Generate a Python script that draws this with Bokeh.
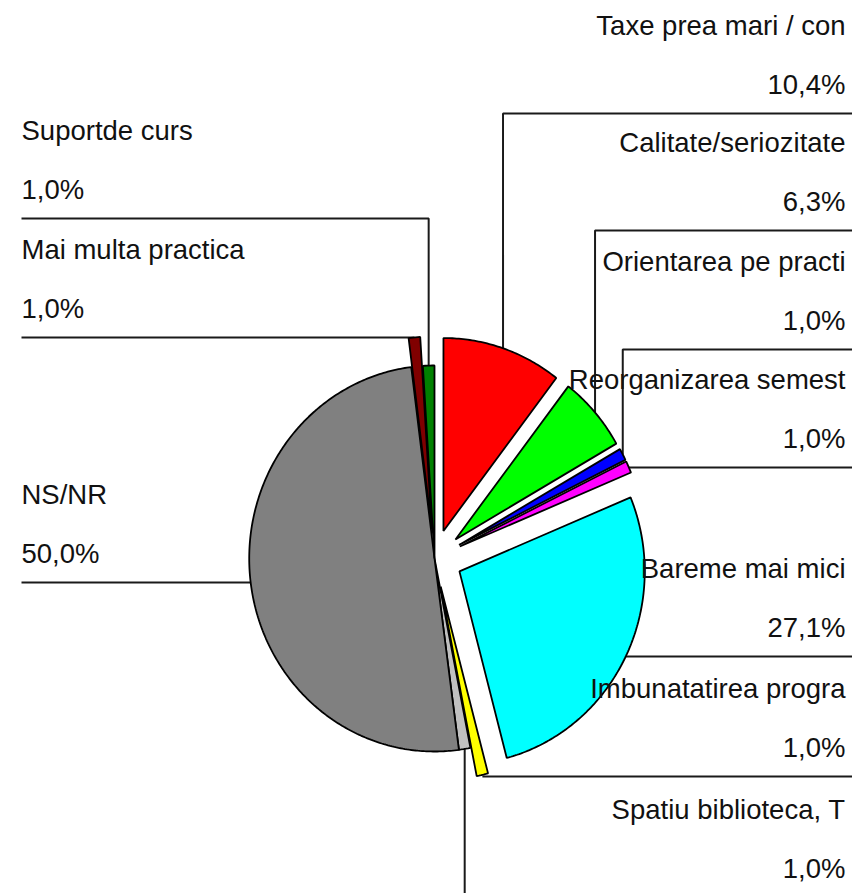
import numpy as np
from bokeh.plotting import figure
from bokeh.models import Range1d, ColumnDataSource
from bokeh.embed import file_html
from bokeh.resources import INLINE
from bokeh.core.properties import value

# ---- data ----
categories = ["Taxe prea mari / con", "Calitate/seriozitate", "Orientarea pe practi",
              "Reorganizarea semest", "Bareme mai mici", "Imbunatatirea progra",
              "Spatiu biblioteca, T", "NS/NR", "Mai multa practica", "Suportde curs"]
percents = [10.4, 6.3, 1.0, 1.0, 27.1, 1.0, 1.0, 50.0, 1.0, 1.0]

# ---- styling ----
colors = ["#FF0000", "#00FF00", "#0000FF", "#FF00FF", "#00FFFF",
          "#FFFF00", "#C0C0C0", "#808080", "#800000", "#008000"]
exploded = [1, 1, 1, 1, 1, 1, 0, 0, 1, 0]
label_side = ["right"] * 7 + ["left"] * 3
label_line_y = [113, 230, 349, 467, 656, 776, 897, 582, 337, 218]

W, H = 852, 893
CX, CY = 434.0, 558.0      # pie centre (px)
R = 193.0                  # radius (px, vertical)
SX = 0.96                  # horizontal squash of the picture
EXPLODE = 29.0             # explosion distance (px)
RIGHT_X, LEFT_X = 845.0, 21.0
EDGE_R, EDGE_L = 870.0, 21.0
FONT = value("Liberation Sans")
FSIZE = "27.5px"

p = figure(width=W, height=H, x_range=Range1d(0, W), y_range=Range1d(H, 0),
           output_backend="svg", toolbar_location=None, min_border=0,
           x_axis_location=None, y_axis_location=None)
p.grid.visible = False
p.outline_line_color = None
p.background_fill_color = "white"
p.border_fill_color = "white"

total = sum(percents)
fracs = np.array(percents) / total
ends = np.cumsum(fracs) * 2 * np.pi
starts = ends - fracs * 2 * np.pi

xs, ys, lead_x, lead_y = [], [], [], []
for i in range(len(percents)):
    a0, a1 = starts[i], ends[i]
    mid = (a0 + a1) / 2
    d = EXPLODE * exploded[i]
    tx = CX + SX * d * np.sin(mid)
    ty = CY - d * np.cos(mid)
    n = max(6, int(np.degrees(a1 - a0) * 1.5))
    th = np.linspace(a0, a1, n)
    px = np.concatenate([[tx], tx + SX * R * np.sin(th)])
    py = np.concatenate([[ty], ty - R * np.cos(th)])
    xs.append(list(px))
    ys.append(list(py))
    # leader line
    ox = tx + SX * R * np.sin(mid)
    oy = ty - R * np.cos(mid)
    ly = label_line_y[i]
    edge = EDGE_R if label_side[i] == "right" else EDGE_L
    if abs(ly - oy) < 10:
        lead_x.append([ox, edge])
        lead_y.append([ly, ly])
    else:
        lead_x.append([ox, ox, edge])
        lead_y.append([oy, ly, ly])

p.multi_line(xs=lead_x, ys=lead_y, line_color="#1a1a1a", line_width=2)
p.patches(xs=xs, ys=ys, fill_color=colors, line_color="black", line_width=1.8)

names_src = ColumnDataSource(dict(
    x=[RIGHT_X if s == "right" else LEFT_X for s in label_side],
    y=[ly - 88 for ly in label_line_y],
    t=categories,
    align=label_side,
))
pct_src = ColumnDataSource(dict(
    x=[RIGHT_X if s == "right" else LEFT_X for s in label_side],
    y=[ly - 29 for ly in label_line_y],
    t=[("%.1f" % v).replace(".", ",") + "%" for v in percents],
    align=label_side,
))
for src in (names_src, pct_src):
    p.text(x="x", y="y", text="t", source=src, text_align="align",
           text_baseline="alphabetic", text_font=FONT, text_font_size=FSIZE,
           text_color="#111111")

open("out.html", "w").write(file_html(p, INLINE))
